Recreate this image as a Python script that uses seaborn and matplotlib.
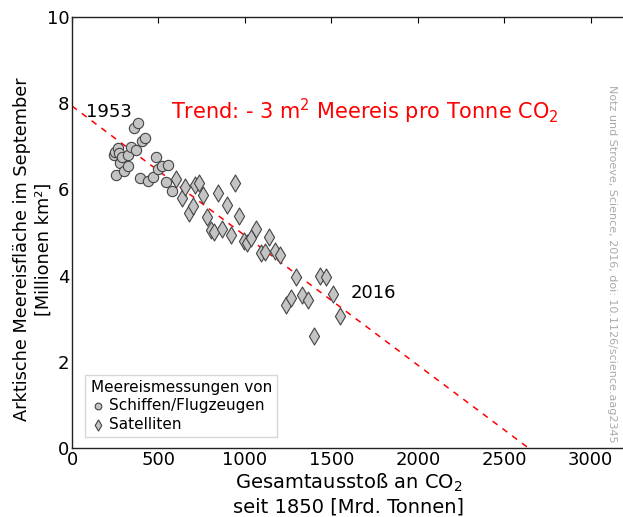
import numpy as np
import pandas as pd
import matplotlib
matplotlib.use("Agg")
import matplotlib.pyplot as plt
import seaborn as sns

# ------------- DATA -------------
# cumulative CO2 since 1850 [Gt] and September sea-ice area [million km2]
ship_co2 = [245, 249, 253, 265, 272, 278, 291, 303, 323, 326, 342, 359, 369,
            380, 394, 404, 423, 438, 471, 485, 496, 519, 543, 558, 577]
ship_ice = [6.80, 6.87, 6.32, 6.95, 6.84, 6.61, 6.76, 6.43, 6.55, 6.80, 6.99, 7.42, 6.91,
            7.54, 6.27, 7.11, 7.19, 6.20, 6.29, 6.74, 6.47, 6.53, 6.16, 6.57, 5.97]

sat_co2 = [602, 635, 654, 677, 699, 712, 737, 757, 780, 803, 824, 847, 870, 896,
           919, 940, 967, 992, 1015, 1036, 1065, 1093, 1118, 1142, 1175, 1204,
           1235, 1268, 1297, 1332, 1365, 1401, 1436, 1471, 1510, 1548]
sat_ice = [6.24, 5.79, 6.06, 5.46, 5.61, 6.10, 6.14, 5.87, 5.35, 5.06, 5.00, 5.92, 5.07, 5.64,
           4.93, 6.14, 5.39, 4.79, 4.76, 4.87, 5.08, 4.52, 4.55, 4.89, 4.58, 4.48,
           3.32, 3.47, 3.97, 3.55, 3.43, 2.60, 4.00, 3.97, 3.57, 3.06]

# trend: -3 m2 sea ice per tonne CO2
trend_co2 = [0, 2640]
trend_ice = [7.93, 0.0]

source_names = ["Schiffen/Flugzeugen", "Satelliten"]

df = pd.DataFrame({
    "co2": ship_co2 + sat_co2,
    "ice": ship_ice + sat_ice,
    "quelle": [source_names[0]] * len(ship_co2) + [source_names[1]] * len(sat_co2),
})

# ------------- PLOT -------------
sns.set_style("white")
plt.rcParams["font.family"] = ["DejaVu Sans"]
plt.rcParams["text.color"] = "black"
plt.rcParams["axes.labelcolor"] = "black"
plt.rcParams["xtick.color"] = "black"
plt.rcParams["ytick.color"] = "black"
plt.rcParams["xtick.direction"] = "in"
plt.rcParams["ytick.direction"] = "in"

fig = plt.figure(figsize=(6.23, 5.17), dpi=100)
ax = fig.add_axes([0.1156, 0.1335, 0.888, 0.834])

ax.plot(trend_co2, trend_ice, color="red", ls=(0, (4, 4)), lw=1.1, zorder=1)

sns.scatterplot(data=df[df.quelle == source_names[0]], x="co2", y="ice",
                marker="o", s=55, color="#c4c4c4", edgecolor="#444444",
                linewidth=0.8, ax=ax, zorder=3, label=source_names[0])
sns.scatterplot(data=df[df.quelle == source_names[1]], x="co2", y="ice",
                marker="d", s=75, color="#c4c4c4", edgecolor="#444444",
                linewidth=0.8, ax=ax, zorder=3, label=source_names[1])

ax.set_xlim(0, 3200)
ax.set_ylim(0, 10)
ax.set_xticks([0, 500, 1000, 1500, 2000, 2500, 3000])
ax.set_yticks([0, 2, 4, 6, 8, 10])
ax.tick_params(axis="both", labelsize=13, length=4, width=0.8,
               top=True, right=False, pad=2)
for sp in ax.spines.values():
    sp.set_color("#222222")
    sp.set_linewidth(1.0)

ax.set_xlabel("Gesamtausstoß an CO$_2$\nseit 1850 [Mrd. Tonnen]", fontsize=14,
              labelpad=2, linespacing=1.25)
ax.set_ylabel("Arktische Meereisfläche im September\n[Millionen km²]", fontsize=12.8,
              linespacing=1.3)
ax.yaxis.set_label_coords(-0.034, 0.46)

ax.text(80, 7.8, "1953", fontsize=13, va="center", ha="left")
ax.text(1610, 3.6, "2016", fontsize=13, va="center", ha="left")
ax.text(575, 7.8, "Trend: - 3 m$^2$ Meereis pro Tonne CO$_2$", fontsize=15,
        color="red", va="center", ha="left")

leg = ax.legend(title="Meereismessungen von", loc="lower left",
                bbox_to_anchor=(0.01, 0.008), fontsize=11, title_fontsize=11,
                frameon=True, fancybox=False, handletextpad=0.2,
                handlelength=1.0, borderpad=0.35, labelspacing=0.2,
                markerscale=0.65)
leg.get_frame().set_edgecolor("#cccccc")
leg.get_frame().set_linewidth(1.0)
leg._legend_box.align = "left"

fig.text(0.982, 0.49, "Notz und Stroeve, Science, 2016, doi: 10.1126/science.aag2345",
         rotation=270, fontsize=8, color="#aaaaaa", ha="center", va="center")

fig.savefig("out.png", dpi=100)
